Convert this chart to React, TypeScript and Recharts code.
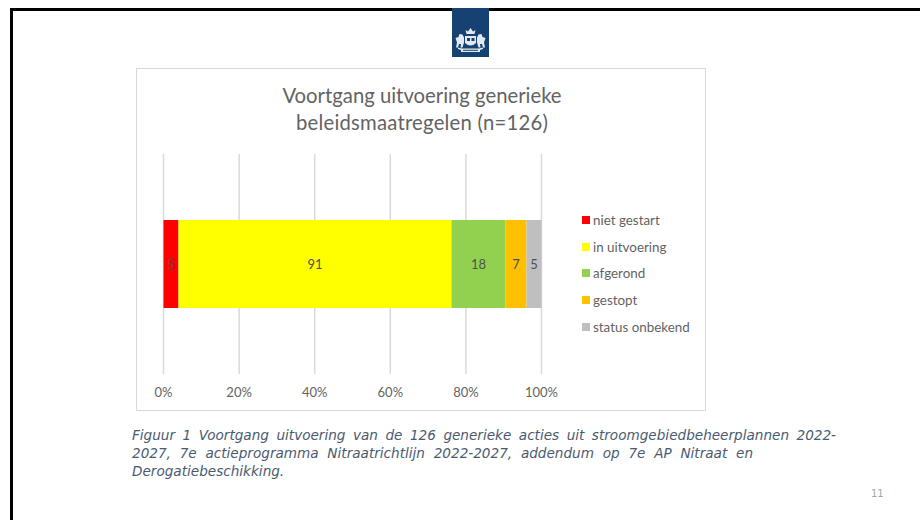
import { BarChart, Bar, XAxis, YAxis, CartesianGrid, LabelList, Legend } from "recharts";

const seriesNames = ["niet gestart", "in uitvoering", "afgerond", "gestopt", "status onbekend"];
const seriesValues = [5, 91, 18, 7, 5];
const seriesColors = ["#ff0000", "#ffff00", "#92d050", "#ffc000", "#bfbfbf"];
const xTicks = [0, 0.2, 0.4, 0.6, 0.8, 1];

const titleLines = ["Voortgang uitvoering generieke", "beleidsmaatregelen (n=126)"];
const captionLines = [
  "Figuur 1 Voortgang uitvoering van de 126 generieke acties uit stroomgebiedbeheerplannen 2022-",
  "2027, 7e actieprogramma Nitraatrichtlijn 2022-2027, addendum op 7e AP Nitraat en",
  "Derogatiebeschikking."
];
const captionWidths = [704, 621, 160];

const row: Record<string, string | number> = { name: "voortgang" };
seriesNames.forEach((name, i) => {
  row[name] = seriesValues[i];
});
const chartData = [row];

const chartFont = "Lato, sans-serif";

function LegendList() {
  return (
    <div style={{ fontFamily: chartFont }}>
      {seriesNames.map((name, i) => (
        <div key={name} style={{ display: "flex", alignItems: "center", height: 26.7, fontSize: 13.4, color: "#636363" }}>
          <span style={{ width: 8, height: 8, background: seriesColors[i], marginRight: 3, flex: "none" }} />
          {name}
        </div>
      ))}
    </div>
  );
}

function Emblem() {
  // rough sketch of the coat of arms in the header tab
  return (
    <svg width={37} height={49} style={{ position: "absolute", left: 0, top: 0 }}>
      <g fill="#e3e9f0">
        <path d="M14.5 26 l-1 -4 l2.5 1.6 l2.5 -3.6 l2.5 3.6 l2.5 -1.6 l-1 4 z" />
        <path d="M13 28 h11 v7 q-5.5 5 -11 0 z" />
        <path d="M3.5 30 l3 -1 l1 -3 l3 0.5 l1.5 3 l0 5 l-1.5 5 h-2 l0.5 -3.5 l-2 0 l-1 3.5 h-2 l1 -5 z" />
        <path d="M33.5 30 l-3 -1 l-1 -3 l-3 0.5 l-1.5 3 l0 5 l1.5 5 h2 l-0.5 -3.5 l2 0 l1 3.5 h2 l-1 -5 z" />
        <path d="M6 39.5 l4 1 h17 l4 -1 v1.5 l-3 1 v2 h-19 v-2 l-3 -1 z" />
      </g>
      <g fill="#154273">
        <rect x={15} y={30} width={3} height={3} />
        <rect x={19.5} y={30} width={3} height={3} />
        <rect x={11} y={41.8} width={15} height={1} />
      </g>
    </svg>
  );
}

export default function App() {
  return (
    <div style={{ position: "absolute", left: 0, top: 0, width: 920, height: 520, background: "#fff", overflow: "hidden" }}>
      {/* slide edge */}
      <div style={{ position: "absolute", left: 10, top: 8, width: 910, height: 512, borderTop: "3px solid #000", borderLeft: "3px solid #000", boxSizing: "border-box" }} />
      <div style={{ position: "absolute", left: 452, top: 8, width: 37, height: 49, background: "#154273" }}>
        <Emblem />
      </div>

      <div style={{ position: "absolute", left: 136, top: 68, width: 569.5, height: 343, border: "1.5px solid #d9d9d9", boxSizing: "border-box" }} />
      <div style={{ position: "absolute", left: 136, top: 82, width: 572, textAlign: "center", fontFamily: chartFont, fontSize: 20.3, lineHeight: "26.5px", color: "#636363" }}>
        {titleLines.map((line, i) => (
          <div key={line} style={{ letterSpacing: i === 1 ? 0.22 : 0 }}>{line}</div>
        ))}
      </div>

      <div style={{ position: "absolute", left: 136, top: 68 }}>
        <BarChart
          width={569}
          height={342}
          data={chartData}
          layout="vertical"
          stackOffset="expand"
          margin={{ top: 86, right: 40.5, bottom: 6, left: 27.5 }}
        >
          <CartesianGrid horizontal={false} stroke="#d9d9d9" strokeWidth={1.5} />
          <XAxis
            type="number"
            domain={[0, 1]}
            ticks={xTicks}
            tickFormatter={(v: number) => `${Math.round(v * 100)}%`}
            axisLine={false}
            tickLine={false}
            height={30}
            tickMargin={8}
            tick={{ fill: "#636363", fontSize: 13, fontFamily: chartFont }}
            interval={0}
          />
          <YAxis type="category" dataKey="name" hide />
          <Legend
            layout="vertical"
            align="right"
            verticalAlign="top"
            content={<LegendList />}
            wrapperStyle={{ left: 446, right: "auto", top: 138.5, width: 123 }}
          />
          {seriesNames.map((name, i) => (
            <Bar key={name} dataKey={name} stackId="a" fill={seriesColors[i]} barSize={88} isAnimationActive={false}>
              <LabelList dataKey={name} position="center" fill="#505050" fontSize={13} fontFamily={chartFont} />
            </Bar>
          ))}
        </BarChart>
      </div>

      <div style={{ position: "absolute", left: 132, top: 426, fontFamily: "'DejaVu Sans', sans-serif", fontStyle: "italic", fontSize: 13.6, lineHeight: "18px", color: "#4a5a70" }}>
        {captionLines.map((line, i) => (
          <div key={i} style={{ width: captionWidths[i], textAlign: "justify", textAlignLast: i < 2 ? "justify" : "left", whiteSpace: "normal" }}>{line}</div>
        ))}
      </div>

      <div style={{ position: "absolute", left: 871, top: 488, fontFamily: "'DejaVu Sans', sans-serif", fontSize: 10, color: "#a6a6a6" }}>11</div>
    </div>
  );
}
